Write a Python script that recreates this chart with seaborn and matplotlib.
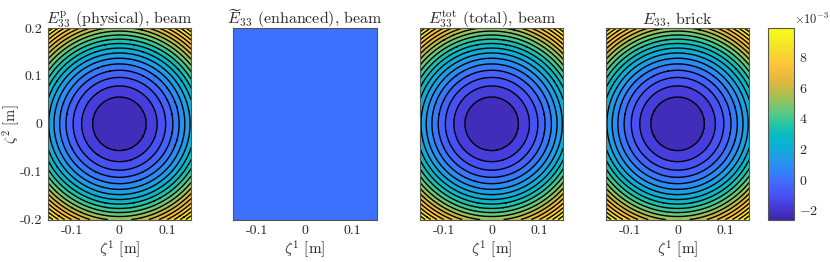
import numpy as np
import matplotlib
matplotlib.use('Agg')
import matplotlib.pyplot as plt
from matplotlib.colors import LinearSegmentedColormap, Normalize
from matplotlib.ticker import ScalarFormatter
import seaborn as sns

# --- Data ---
xi1_lim = [-0.15, 0.15]          # zeta^1 extent [m]
xi2_lim = [-0.2, 0.2]            # zeta^2 extent [m]
e33_center = -2.6e-3             # E33 at the centre of the section
e33_curv = 0.2                   # E33 = center + curv * (z1^2 + z2^2)
e33_enhanced = 0.0               # enhanced strain is zero everywhere
n_levels = 20
x_ticks = [-0.1, 0, 0.1]
x_ticklabels = ['-0.1', '0', '0.1']
y_ticks = [-0.2, -0.1, 0, 0.1, 0.2]
y_ticklabels = ['-0.2', '-0.1', '0', '0.1', '0.2']
cb_ticks = [-2e-3, 0, 2e-3, 4e-3, 6e-3, 8e-3]
titles = [r'$E_{33}^{\mathrm{p}}$ (physical), beam',
          r'$\widetilde{E}_{33}$ (enhanced), beam',
          r'$E_{33}^{\mathrm{tot}}$ (total), beam',
          r'$E_{33}$, brick']

# parula-like colormap (MATLAB default)
parula_pts = [
    (0.2422, 0.1504, 0.6603), (0.2780, 0.2200, 0.8400), (0.2810, 0.3228, 0.9579),
    (0.2650, 0.4000, 0.9960), (0.1800, 0.5200, 0.9750), (0.1400, 0.6000, 0.9100),
    (0.0600, 0.6800, 0.8500), (0.0300, 0.7300, 0.7600), (0.1600, 0.7700, 0.6400),
    (0.3600, 0.7900, 0.5100), (0.5900, 0.7600, 0.3700), (0.7800, 0.7300, 0.2600),
    (0.9300, 0.7300, 0.2300), (0.9900, 0.7700, 0.2300), (0.9700, 0.8500, 0.1800),
    (0.9600, 0.9300, 0.1300), (0.9769, 0.9839, 0.0805)]
parula = LinearSegmentedColormap.from_list('parula', parula_pts)

sns.set_style('white')
plt.rcParams['font.family'] = ['cmr10']
plt.rcParams['mathtext.fontset'] = 'cm'
plt.rcParams['axes.formatter.use_mathtext'] = True
plt.rcParams['contour.negative_linestyle'] = 'solid'

# grid
z1 = np.linspace(xi1_lim[0], xi1_lim[1], 301)
z2 = np.linspace(xi2_lim[0], xi2_lim[1], 401)
Z1, Z2 = np.meshgrid(z1, z2)
E_phys = e33_center + e33_curv * (Z1**2 + Z2**2)
E_enh = np.full_like(E_phys, e33_enhanced)
E_tot = E_phys + E_enh
E_brick = E_phys.copy()
fields = [E_phys, E_enh, E_tot, E_brick]

vmin, vmax = E_phys.min(), E_phys.max()
norm = Normalize(vmin=vmin, vmax=vmax)
levels = np.linspace(vmin, vmax, n_levels + 1)

fig = plt.figure(figsize=(8.3, 2.62), dpi=100)
lefts = [0.0575, 0.2811, 0.506, 0.730]
bottom, width, height = 0.162, 0.1727, 0.731

for i, (F, title) in enumerate(zip(fields, titles)):
    ax = fig.add_axes([lefts[i], bottom, width, height])
    if np.ptp(F) == 0:
        ax.pcolormesh(Z1, Z2, F, cmap=parula, norm=norm, shading='auto')
    else:
        ax.contourf(Z1, Z2, F, levels=levels, cmap=parula, norm=norm)
        ax.contour(Z1, Z2, F, levels=levels[1:-1], colors='k',
                   linewidths=1.0, linestyles='solid')
    ax.set_xlim(xi1_lim)
    ax.set_ylim(xi2_lim)
    ax.set_xticks(x_ticks)
    ax.set_xticklabels(x_ticklabels)
    ax.set_yticks(y_ticks)
    if i == 0:
        ax.set_yticklabels(y_ticklabels)
        ax.set_ylabel(r'$\zeta^2$ [m]', fontsize=10.5, va='center')
        ax.yaxis.set_label_coords(-0.255, 0.5)
    else:
        ax.set_yticklabels([])
    ax.set_xlabel(r'$\zeta^1$ [m]', fontsize=11, labelpad=1)
    ax.set_title(title, fontsize=11.5, pad=3)
    ax.tick_params(direction='in', length=3, width=0.6, top=True, right=True,
                   labelsize=10, colors='#262626', pad=4)
    for s in ax.spines.values():
        s.set_linewidth(0.8)
        s.set_color('#555555')

cax = fig.add_axes([0.925, bottom, 0.032, height])
sm = plt.cm.ScalarMappable(norm=norm, cmap=parula)
cb = fig.colorbar(sm, cax=cax)
cb.set_ticks(cb_ticks)
fmt = ScalarFormatter(useMathText=True)
fmt.set_powerlimits((-3, -3))
cb.formatter = fmt
cb.update_ticks()
cb.ax.tick_params(direction='in', length=3, width=0.6, labelsize=10, colors='#262626')
cb.outline.set_linewidth(0.8)
cb.outline.set_edgecolor('#555555')
off = cb.ax.yaxis.get_offset_text()
off.set_fontsize(9)
off.set_horizontalalignment('left')
off.set_x(1.0)

fig.savefig('out.png', dpi=100)
